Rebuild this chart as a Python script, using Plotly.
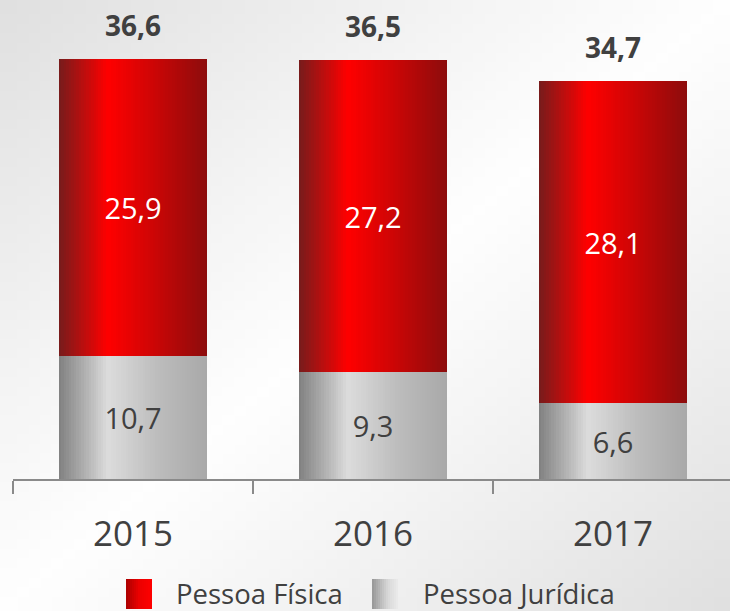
import base64
import struct
import zlib
import plotly.graph_objects as go

# ---------------- data ----------------
years = ["2015", "2016", "2017"]
pessoa_fisica = [25.9, 27.2, 28.1]
pessoa_juridica = [10.7, 9.3, 6.6]
series_names = ["Pessoa Física", "Pessoa Jurídica"]

totals = [round(a + b, 1) for a, b in zip(pessoa_fisica, pessoa_juridica)]


def fmt(v):
    return f"{v:.1f}".replace(".", ",")


# ---------------- geometry / styles ----------------
W, H = 730, 611
ML, MR, MT, MB = 13, 0, 0, 132
PW, PH = W - ML - MR, H - MT - MB
CAT_PX = 240.0
X_RANGE = [-0.5, -0.5 + PW / CAT_PX]
PX_PER_UNIT = 11.48
Y_RANGE = [0, PH / PX_PER_UNIT]
BAR_W = 148 / CAT_PX
N_STRIPES = 60

RED_STOPS = [(0.0, (118, 28, 28)), (0.33, (255, 0, 0)), (0.62, (208, 5, 5)), (1.0, (140, 12, 12))]
GRAY_STOPS = [(0.0, (128, 128, 128)), (0.33, (220, 220, 220)), (0.65, (190, 190, 190)), (1.0, (168, 168, 168))]
TEXT_DARK = "#404040"
FONT = "Open Sans, Noto Sans, DejaVu Sans, sans-serif"


def grad(stops, t):
    for (t0, c0), (t1, c1) in zip(stops[:-1], stops[1:]):
        if t0 <= t <= t1:
            f = (t - t0) / (t1 - t0) if t1 > t0 else 0
            c = [round(a + (b - a) * f) for a, b in zip(c0, c1)]
            return f"rgb({c[0]},{c[1]},{c[2]})"
    c = stops[-1][1]
    return f"rgb({c[0]},{c[1]},{c[2]})"


def striped_bar(cats, vals, bases, stops, name):
    xs, ys, bs, ws, offs, cols = [], [], [], [], [], []
    sw = BAR_W / N_STRIPES
    for cat, v, b in zip(cats, vals, bases):
        for k in range(N_STRIPES):
            t = (k + 0.5) / N_STRIPES
            xs.append(cat)
            ys.append(v)
            bs.append(b)
            offs.append(-BAR_W / 2 + k * sw)
            ws.append(sw * 1.7 if k < N_STRIPES - 1 else sw)
            cols.append(grad(stops, t))
    return go.Bar(x=xs, y=ys, base=bs, width=ws, offset=offs, name=name,
                  marker=dict(color=cols, line=dict(width=0)),
                  showlegend=False, hoverinfo="skip")


# ---------------- background gradient image ----------------
def png_gray(n):
    rows = b""
    for j in range(n):
        row = b"\x00"
        for i in range(n):
            u, v = i / (n - 1), j / (n - 1)
            d = abs(u + v - 1.0)
            val = int(round(254 - 30 * d ** 1.1))
            row += bytes([val])
        rows += row

    def chunk(tag, data):
        c = struct.pack(">I", len(data)) + tag + data
        return c + struct.pack(">I", zlib.crc32(tag + data) & 0xFFFFFFFF)

    png = b"\x89PNG\r\n\x1a\n"
    png += chunk(b"IHDR", struct.pack(">IIBBBBB", n, n, 8, 0, 0, 0, 0))
    png += chunk(b"IDAT", zlib.compress(rows, 9))
    png += chunk(b"IEND", b"")
    return "data:image/png;base64," + base64.b64encode(png).decode()


def px_x(x):
    return (x - ML) / PW


def px_y(y):
    return (MT + PH - y) / PH


fig = go.Figure()

# gradient bars
fig.add_trace(striped_bar(years, pessoa_juridica, [0] * 3, GRAY_STOPS, series_names[1]))
fig.add_trace(striped_bar(years, pessoa_fisica, pessoa_juridica, RED_STOPS, series_names[0]))

# transparent bars carrying the value labels
fig.add_trace(go.Bar(x=years, y=pessoa_juridica, base=[0] * 3, width=BAR_W, name=series_names[1],
                     marker=dict(color="rgba(0,0,0,0)", line=dict(width=0)),
                     text=[fmt(v) for v in pessoa_juridica], textposition="inside",
                     insidetextanchor="middle", textangle=0,
                     textfont=dict(size=29, color=TEXT_DARK, family=FONT),
                     showlegend=False, hoverinfo="skip"))
fig.add_trace(go.Bar(x=years, y=pessoa_fisica, base=pessoa_juridica, width=BAR_W, name=series_names[0],
                     marker=dict(color="rgba(0,0,0,0)", line=dict(width=0)),
                     text=[fmt(v) for v in pessoa_fisica], textposition="inside",
                     insidetextanchor="middle", textangle=0,
                     textfont=dict(size=29, color="white", family=FONT),
                     showlegend=False, hoverinfo="skip"))

annotations = []
# totals above the stacks
for i, tot in enumerate(totals):
    annotations.append(dict(x=i, y=tot, xref="x", yref="y", text="<b>" + fmt(tot) + "</b>",
                            showarrow=False, xanchor="center", yanchor="bottom", yshift=13,
                            font=dict(size=28, color=TEXT_DARK, family=FONT)))

# manual legend
shapes = []
legend_items = [
    (series_names[0], 126, 174, [(0.0, (170, 0, 0)), (0.5, (235, 0, 0)), (1.0, (255, 0, 0))]),
    (series_names[1], 372, 421, [(0.0, (150, 150, 150)), (0.6, (215, 215, 215)), (1.0, (235, 235, 235))]),
]
SQ_W, SQ_TOP, SQ_BOT = 26, 579, 609
NS = 13
for label, sx, tx, stops in legend_items:
    for k in range(NS):
        x0 = sx + SQ_W * k / NS
        x1 = sx + SQ_W * (k + 1.6) / NS if k < NS - 1 else sx + SQ_W
        shapes.append(dict(type="rect", xref="paper", yref="paper",
                           x0=px_x(x0), x1=px_x(x1), y0=px_y(SQ_BOT), y1=px_y(SQ_TOP),
                           fillcolor=grad(stops, (k + 0.5) / NS), line=dict(width=0), layer="above"))
    annotations.append(dict(text=label, xref="paper", yref="paper", x=px_x(tx), y=px_y(593),
                            xanchor="left", yanchor="middle", showarrow=False,
                            font=dict(size=27.5, color=TEXT_DARK, family=FONT)))

fig.update_layout(
    width=W, height=H,
    margin=dict(l=ML, r=MR, t=MT, b=MB, pad=0),
    barmode="overlay",
    bargap=0,
    paper_bgcolor="#f4f4f4",
    plot_bgcolor="rgba(0,0,0,0)",
    separators=",.",
    showlegend=False,
    font=dict(family=FONT, color=TEXT_DARK),
    xaxis=dict(type="category", range=X_RANGE, tickson="boundaries", ticks="outside",
               ticklen=13, tickwidth=1.5, tickcolor="#8a8a8a", showline=True,
               linecolor="#8a8a8a", linewidth=2, showgrid=False, zeroline=False,
               tickfont=dict(size=35, color=TEXT_DARK, family=FONT), ticklabelstandoff=23,
               fixedrange=True),
    yaxis=dict(range=Y_RANGE, visible=False, showgrid=False, zeroline=False, fixedrange=True),
    shapes=shapes,
    annotations=annotations,
    images=[dict(source=png_gray(64), xref="paper", yref="paper",
                 x=-ML / PW, y=1 + MT / PH, sizex=W / PW, sizey=H / PH,
                 sizing="stretch", xanchor="left", yanchor="top", layer="below")],
)

fig.write_html(
    "out.html",
    config={"displayModeBar": False},
    post_script="document.body.style.margin='0';document.body.style.overflow='hidden';",
)
